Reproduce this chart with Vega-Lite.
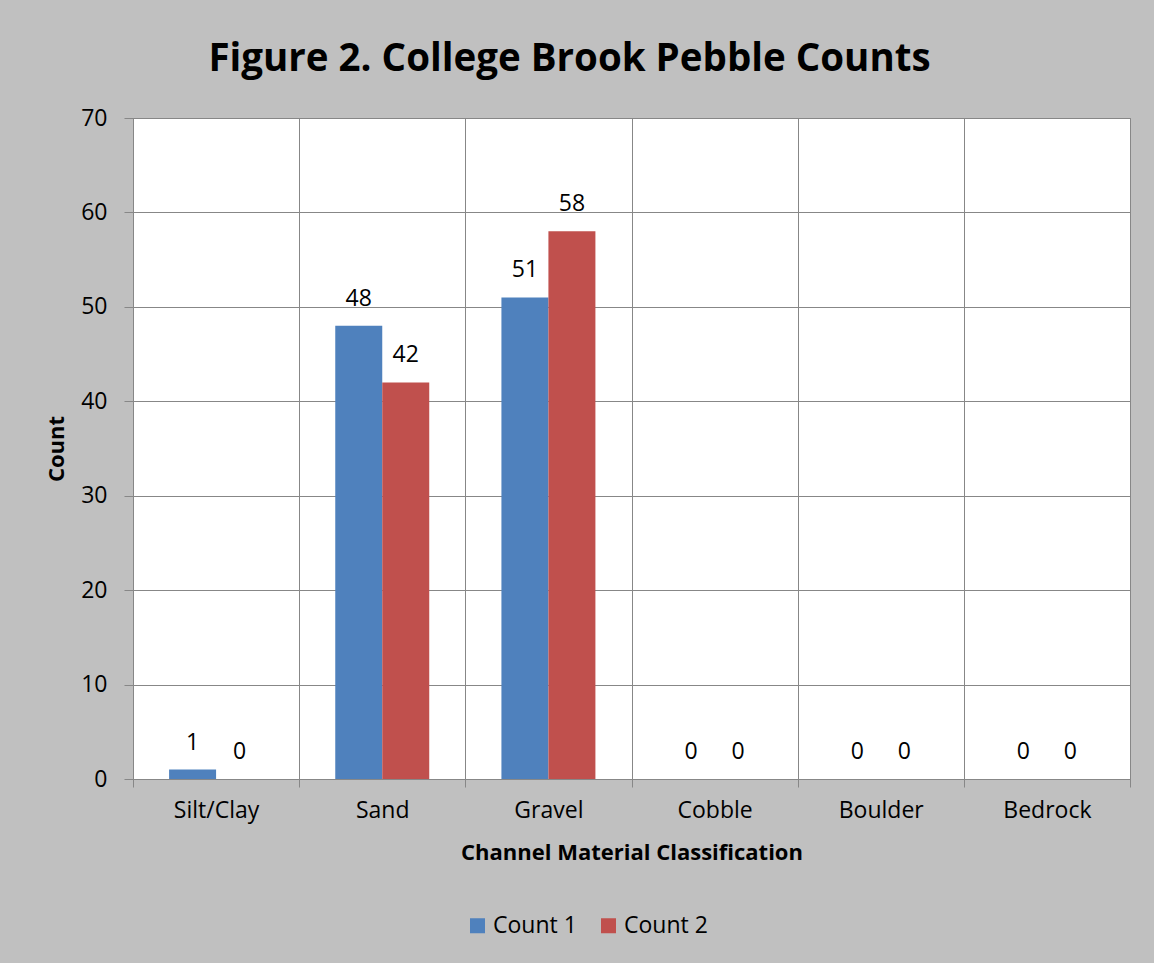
{
  "$schema": "https://vega.github.io/schema/vega-lite/v6.json",
  "width": 997,
  "height": 661,
  "autosize": {"type": "none"},
  "padding": {"left": 133, "top": 118, "right": 24, "bottom": 184},
  "background": "#c0c0c0",
  "title": {
    "text": "Figure 2. College Brook Pebble Counts",
    "font": "Open Sans",
    "fontSize": 38.5,
    "fontWeight": "bold",
    "color": "#000000",
    "anchor": "middle",
    "dx": -62,
    "offset": 28
  },
  "config": {
    "font": "Open Sans",
    "view": {"fill": "#ffffff", "stroke": "#878787", "strokeWidth": 1}
  },
  "data": {
    "values": [
      {"material": "Silt/Clay", "series": "Count 1", "count": 1},
      {"material": "Silt/Clay", "series": "Count 2", "count": 0},
      {"material": "Sand", "series": "Count 1", "count": 48},
      {"material": "Sand", "series": "Count 2", "count": 42},
      {"material": "Gravel", "series": "Count 1", "count": 51},
      {"material": "Gravel", "series": "Count 2", "count": 58},
      {"material": "Cobble", "series": "Count 1", "count": 0},
      {"material": "Cobble", "series": "Count 2", "count": 0},
      {"material": "Boulder", "series": "Count 1", "count": 0},
      {"material": "Boulder", "series": "Count 2", "count": 0},
      {"material": "Bedrock", "series": "Count 1", "count": 0},
      {"material": "Bedrock", "series": "Count 2", "count": 0}
    ]
  },
  "encoding": {
    "x": {
      "field": "material",
      "type": "nominal",
      "sort": ["Silt/Clay", "Sand", "Gravel", "Cobble", "Boulder", "Bedrock"],
      "scale": {"paddingInner": 0, "paddingOuter": 0},
      "title": "Channel Material Classification",
      "axis": {
        "labelAngle": 0,
        "tickBand": "extent",
        "grid": true,
        "gridColor": "#878787",
        "gridWidth": 1,
        "domainColor": "#878787",
        "tickColor": "#878787",
        "tickSize": 8,
        "labelFont": "Open Sans",
        "labelFontSize": 23,
        "labelColor": "#000000",
        "labelPadding": 12,
        "titleFont": "Open Sans",
        "titleFontSize": 22,
        "titleFontWeight": "bold",
        "titleColor": "#000000",
        "titlePadding": 20
      }
    },
    "xOffset": {
      "field": "series",
      "type": "nominal",
      "scale": {"paddingInner": 0, "paddingOuter": 0.768}
    },
    "y": {
      "field": "count",
      "type": "quantitative",
      "scale": {"domain": [0, 70], "nice": false},
      "title": "Count",
      "axis": {
        "values": [0, 10, 20, 30, 40, 50, 60, 70],
        "grid": true,
        "gridColor": "#878787",
        "gridWidth": 1,
        "domainColor": "#878787",
        "tickColor": "#878787",
        "tickSize": 9,
        "labelFont": "Open Sans",
        "labelFontSize": 23,
        "labelColor": "#000000",
        "labelPadding": 17,
        "titleFont": "Open Sans",
        "titleFontSize": 22,
        "titleFontWeight": "bold",
        "titleColor": "#000000",
        "titlePadding": 12
      }
    }
  },
  "layer": [
    {
      "mark": {"type": "bar"},
      "encoding": {
        "color": {
          "field": "series",
          "type": "nominal",
          "scale": {"domain": ["Count 1", "Count 2"], "range": ["#4f81bd", "#c0504d"]},
          "legend": {
            "title": null,
            "orient": "none",
            "legendX": 333,
            "legendY": 796,
            "direction": "horizontal",
            "symbolType": "square",
            "symbolSize": 225,
            "symbolStrokeWidth": 0,
            "labelFont": "Open Sans",
            "labelFontSize": 23,
            "labelColor": "#000000",
            "labelOffset": 4,
            "columnPadding": 20
          }
        }
      }
    },
    {
      "mark": {"type": "text", "baseline": "alphabetic", "dy": -20, "fontSize": 23, "font": "Open Sans", "color": "#000000"},
      "encoding": {
        "text": {"field": "count", "type": "quantitative"}
      }
    }
  ]
}
